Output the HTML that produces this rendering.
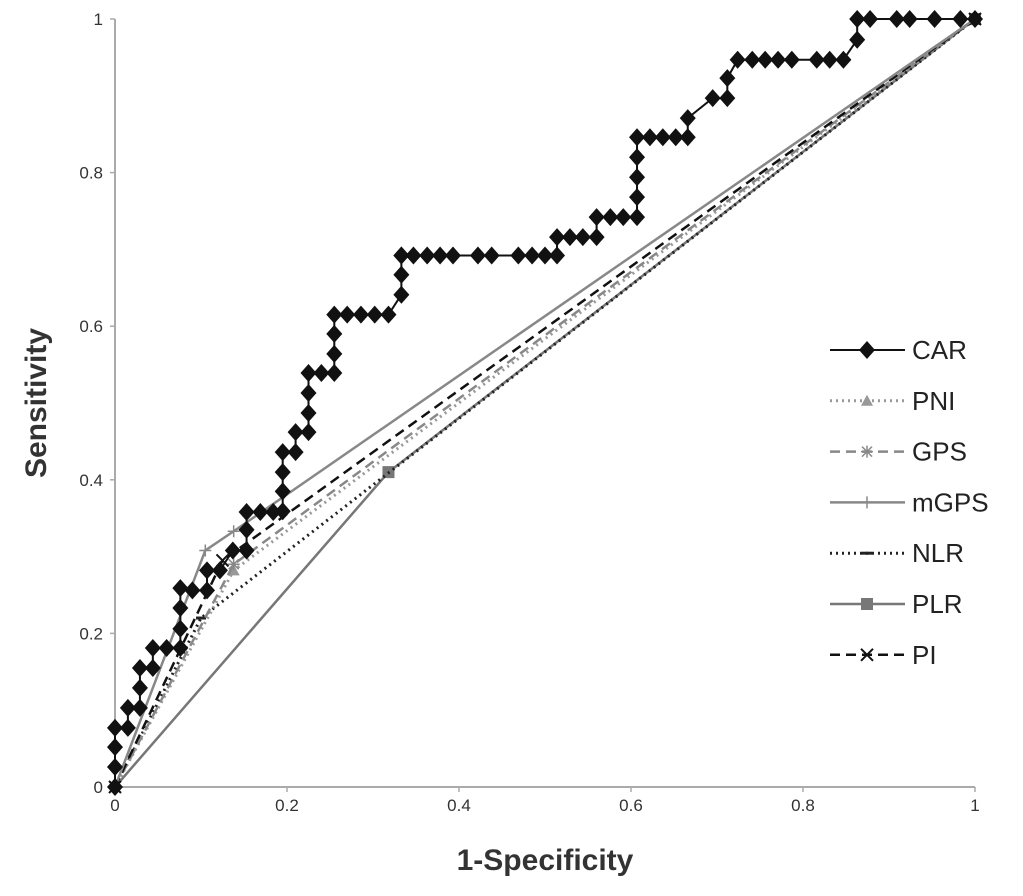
<!DOCTYPE html>
<html><head><meta charset="utf-8"><style>
body{margin:0;background:#fff;}
svg{display:block;font-family:"Liberation Sans",sans-serif;}
</style></head><body>
<svg id="chart" width="1023" height="896"></svg>
<script>
const xTicks=[0,0.2,0.4,0.6,0.8,1];
const yTicks=[0,0.2,0.4,0.6,0.8,1];
const tickLabels=["0","0.2","0.4","0.6","0.8","1"];
const carX=[0,0,0,0,0.015,0.015,0.029,0.029,0.029,0.044,0.044,0.06,0.076,0.076,0.076,0.076,0.09,0.107,0.107,0.122,0.137,0.153,0.153,0.153,0.169,0.184,0.195,0.195,0.195,0.195,0.21,0.21,0.225,0.225,0.225,0.225,0.24,0.255,0.255,0.255,0.255,0.27,0.286,0.302,0.318,0.333,0.333,0.333,0.333,0.347,0.363,0.378,0.393,0.422,0.438,0.469,0.485,0.5,0.514,0.514,0.529,0.544,0.56,0.56,0.576,0.591,0.607,0.607,0.607,0.607,0.607,0.622,0.637,0.652,0.666,0.666,0.695,0.712,0.712,0.724,0.741,0.756,0.771,0.787,0.816,0.831,0.847,0.863,0.863,0.878,0.909,0.924,0.953,0.983,1];
const carY=[0,0.026,0.052,0.077,0.077,0.103,0.103,0.129,0.155,0.155,0.181,0.181,0.181,0.206,0.233,0.259,0.256,0.256,0.282,0.282,0.308,0.308,0.335,0.358,0.358,0.358,0.359,0.385,0.41,0.436,0.436,0.462,0.462,0.487,0.513,0.539,0.539,0.539,0.564,0.59,0.615,0.615,0.615,0.615,0.615,0.641,0.667,0.692,0.692,0.692,0.692,0.692,0.692,0.692,0.692,0.692,0.692,0.692,0.692,0.716,0.716,0.716,0.716,0.742,0.742,0.742,0.742,0.768,0.794,0.82,0.846,0.846,0.846,0.846,0.846,0.871,0.897,0.897,0.923,0.947,0.947,0.947,0.947,0.947,0.947,0.947,0.947,0.973,1,1,1,1,1,1,1];
const pniX=[0,0.138,1], pniY=[0,0.282,1];
const gpsX=[0,0.138,1], gpsY=[0,0.29,1];
const mgpsX=[0,0.105,0.138,1], mgpsY=[0,0.308,0.333,1];
const nlrX=[0,0.1,1], nlrY=[0,0.22,1];
const plrX=[0,0.318,1], plrY=[0,0.41,1];
const piX=[0,0.125,1], piY=[0,0.295,1];

const NS="http://www.w3.org/2000/svg";
const svg=document.getElementById('chart');
const X0=115,X1=975,Y0=787,Y1=19;
const sx=v=>X0+v*(X1-X0), sy=v=>Y0-v*(Y0-Y1);
function el(t,a,p){const e=document.createElementNS(NS,t);for(const k in a)e.setAttribute(k,a[k]);(p||svg).appendChild(e);return e;}

let e=el('line',{x1:X0,y1:Y0,x2:X1,y2:Y0,stroke:'#aaa','stroke-width':2});


e=el('line',{x1:X0,y1:Y0,x2:X0,y2:Y1,stroke:'#aaa','stroke-width':2});


xTicks.forEach((v,i)=>{
  el('line',{x1:sx(v),y1:Y0,x2:sx(v),y2:Y0+5,stroke:'#aaa','stroke-width':1.5});
  const t=el('text',{x:sx(v),y:Y0+24,'text-anchor':'middle','font-size':17,fill:'#333'});
  t.textContent=tickLabels[i];
  
  
});
yTicks.forEach((v,i)=>{
  el('line',{x1:X0-5,y1:sy(v),x2:X0,y2:sy(v),stroke:'#aaa','stroke-width':1.5});
  const t=el('text',{x:X0-12,y:sy(v)+6,'text-anchor':'end','font-size':17,fill:'#333'});
  t.textContent=tickLabels[i];
  
  
});
let t=el('text',{x:545,y:870,'text-anchor':'middle','font-size':30,'font-weight':'bold',fill:'#333'});
t.textContent='1-Specificity';


t=el('text',{x:0,y:0,'text-anchor':'middle','font-size':30,'font-weight':'bold',fill:'#333',transform:'translate(46,403) rotate(-90)'});
t.textContent='Sensitivity';



function marker(type,x,y,color,g){
  if(type==='diamond') el('polygon',{points:`${x},${y-9} ${x+8},${y} ${x},${y+9} ${x-8},${y}`,fill:'#111'},g);
  else if(type==='tri') el('polygon',{points:`${x},${y-6} ${x+6},${y+5} ${x-6},${y+5}`,fill:color},g);
  else if(type==='square') el('rect',{x:x-6,y:y-6,width:12,height:12,fill:color},g);
  else if(type==='x'){el('path',{d:`M${x-6} ${y-6}L${x+6} ${y+6}M${x+6} ${y-6}L${x-6} ${y+6}`,stroke:color,'stroke-width':2},g);}
  else if(type==='star'){el('path',{d:`M${x-6} ${y}L${x+6} ${y}M${x} ${y-6}L${x} ${y+6}M${x-5} ${y-5}L${x+5} ${y+5}M${x+5} ${y-5}L${x-5} ${y+5}`,stroke:color,'stroke-width':1.5},g);}
  else if(type==='plus'){el('path',{d:`M${x-6} ${y}L${x+6} ${y}M${x} ${y-6}L${x} ${y+6}`,stroke:color,'stroke-width':1.5},g);}
  else if(type==='dash'){el('path',{d:`M${x-5} ${y}L${x+5} ${y}`,stroke:color,'stroke-width':3},g);}
}
const series=[
 {name:'PLR',xs:plrX,ys:plrY,color:'#777',dash:'',w:2.5,m:'square'},
 {name:'NLR',xs:nlrX,ys:nlrY,color:'#222',dash:'2,4',w:3,m:'dash'},
 {name:'PNI',xs:pniX,ys:pniY,color:'#999',dash:'2,4',w:3,m:'tri'},
 {name:'GPS',xs:gpsX,ys:gpsY,color:'#888',dash:'10,6',w:2.5,m:'star'},
 {name:'PI',xs:piX,ys:piY,color:'#111',dash:'10,6',w:2.5,m:'x'},
 {name:'mGPS',xs:mgpsX,ys:mgpsY,color:'#888',dash:'',w:2.5,m:'plus'},
 {name:'CAR',xs:carX,ys:carY,color:'#111',dash:'',w:2,m:'diamond'}
];
series.forEach(s=>{
  const g=el('g',{});
  
  
  const pts=s.xs.map((x,i)=>sx(x)+','+sy(s.ys[i])).join(' ');
  el('polyline',{points:pts,fill:'none',stroke:s.color,'stroke-width':s.w,'stroke-dasharray':s.dash},g);
  const mc=s.name==='PLR'?'#777':s.color;
  s.xs.forEach((x,i)=>{ if(s.name!=='CAR' && i===0 && s.name!=='PI') return; marker(s.m,sx(x),sy(s.ys[i]),mc,g);});
});
const legendOrder=['CAR','PNI','GPS','mGPS','NLR','PLR','PI'];
legendOrder.forEach((n,i)=>{
  const s=series.find(q=>q.name===n);
  const y=350+i*50.8;
  const g=el('g',{});
  
  
  el('line',{x1:830,y1:y,x2:905,y2:y,stroke:s.color,'stroke-width':s.w,'stroke-dasharray':s.dash},g);
  marker(s.m,867,y,s.name==='PLR'?'#777':s.color,g);
  const tt=el('text',{x:912,y:y+9,'font-size':26,fill:'#222'},g);
  tt.textContent=n;
});
</script>
</body></html>
